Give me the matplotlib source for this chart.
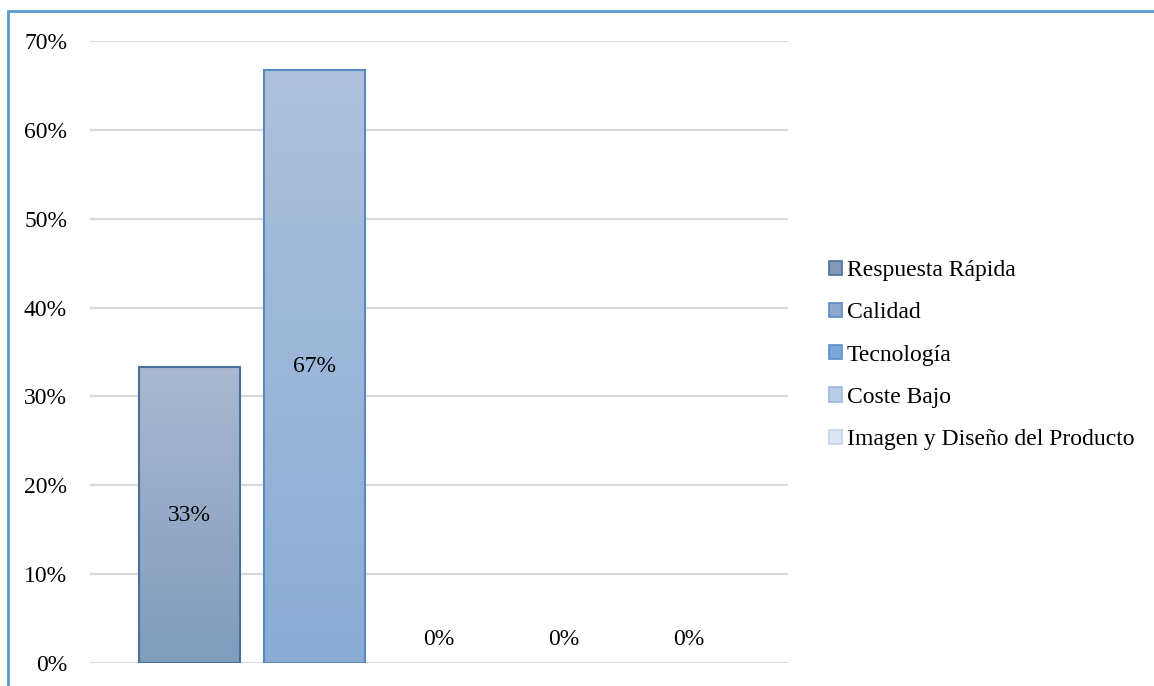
import matplotlib
matplotlib.use("Agg")
import matplotlib.pyplot as plt
import numpy as np
from matplotlib.patches import Rectangle, Patch
from matplotlib.colors import LinearSegmentedColormap
from matplotlib.ticker import FuncFormatter

# data
categories = ["Respuesta Rápida", "Calidad", "Tecnología", "Coste Bajo",
              "Imagen y Diseño del Producto"]
values = [0.333, 0.667, 0.0, 0.0, 0.0]
labels = ["33%", "67%", "0%", "0%", "0%"]
yticks = [0, 0.1, 0.2, 0.3, 0.4, 0.5, 0.6, 0.7]

# gradient (top, bottom) and edge colour for each series
tops = ["#A8B9D0", "#ADC1DC", "#A3C0E6", "#C9D8EE", "#E3EAF5"]
bottoms = ["#809BBC", "#8AACD5", "#7AA2D8", "#B3C8E6", "#D4DFF0"]
edges = ["#4A6F9B", "#5A89C2", "#5B8FD0", "#9DB8E0", "#C3D3EC"]
legend_colors = ["#8399B7", "#8EA9CE", "#7FA6DA", "#BACEEA", "#DCE5F3"]

plt.rcParams["font.family"] = ["Liberation Serif", "DejaVu Serif"]
FS = 17

fig = plt.figure(figsize=(11.54, 6.86), dpi=100)
ax = fig.add_axes([90 / 1154, 1 - 663 / 686, (788 - 90) / 1154, (663 - 41) / 686])

x = np.arange(len(categories))
bars = ax.bar(x, values, width=0.81, facecolor="none", edgecolor=edges,
              linewidth=1.5, zorder=3)

# fill every bar with a vertical gradient, hide the empty ones
for rect, top, bot in zip(bars, tops, bottoms):
    h = rect.get_height()
    if h <= 0:
        rect.set_linewidth(0)
        continue
    cmap = LinearSegmentedColormap.from_list("g", [bot, top])
    grad = np.linspace(0, 1, 256).reshape(-1, 1)
    ax.imshow(grad, cmap=cmap, origin="lower", aspect="auto", zorder=2,
              extent=[rect.get_x(), rect.get_x() + rect.get_width(), 0, h])

# data labels
for xi, v, lab in zip(x, values, labels):
    if v > 0:
        ax.text(xi, v / 2, lab, ha="center", va="center", fontsize=FS, zorder=4)
    else:
        ax.text(xi, 0.026, lab, ha="center", va="center", fontsize=FS, zorder=4)

ax.set_xlim(-0.8, 4.8)
ax.set_ylim(0, 0.7)
ax.set_yticks(yticks)
ax.yaxis.set_major_formatter(FuncFormatter(lambda v, p: f"{v * 100:.0f}%"))
ax.set_xticks([])
ax.tick_params(axis="y", length=0, pad=16.5, labelsize=FS)
ax.grid(axis="y", color="#D9D9D9", linewidth=1.6, zorder=0)
ax.set_axisbelow(True)
for s in ax.spines.values():
    s.set_visible(False)

handles = [Patch(facecolor=c, edgecolor=e, linewidth=1.2)
           for c, e in zip(legend_colors, edges)]
fig.legend(handles, categories, loc="center left",
           bbox_to_anchor=(829 / 1154, 1 - 355 / 686), frameon=False,
           fontsize=FS, handlelength=0.55, handleheight=0.55, handletextpad=0.2,
           labelspacing=0.9, borderaxespad=0, borderpad=0)

# outer chart border
fig.patches.append(Rectangle((8 / 1154, -0.1), 1.2, 1.1 - 11 / 686,
                             transform=fig.transFigure, fill=False,
                             edgecolor="#5B9BD5", linewidth=2))

fig.savefig("out.png", dpi=100)
